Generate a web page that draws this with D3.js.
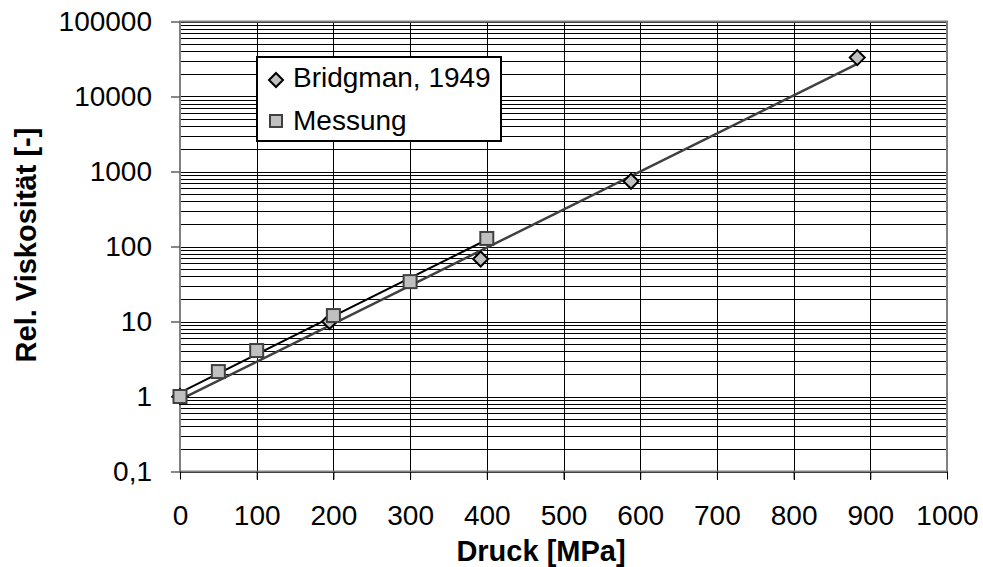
<!DOCTYPE html>
<html>
<head>
<meta charset="utf-8">
<script src="https://cdn.jsdelivr.net/npm/d3@7"></script>
<style>
  html, body { margin: 0; padding: 0; background: #fff; }
  svg { display: block; font-family: Arial, "Liberation Sans", sans-serif; }
</style>
</head>
<body>
<svg id="chart" width="983" height="567"></svg>
<script>
// Relative viscosity vs. pressure (log scale)
const pressureBridgman = [0, 195, 392, 588, 883];
const viscBridgman     = [1, 10, 68, 740, 33000];
const pressureMessung  = [0, 50, 100, 200, 300, 400];
const viscMessung      = [1, 2.15, 4.1, 12, 34, 128];

const xTicks = [0, 100, 200, 300, 400, 500, 600, 700, 800, 900, 1000];
const yTicks = [0.1, 1, 10, 100, 1000, 10000, 100000];
const yTickLabels = ["0,1", "1", "10", "100", "1000", "10000", "100000"];

const seriesNames = ["Bridgman, 1949", "Messung"];
const xTitle = "Druck [MPa]";
const yTitle = "Rel. Viskosität [-]";

const svg = d3.select("#chart");
const plotLeft = 180, plotRight = 947, plotTop = 21.5, plotBottom = 471.5;
const tickFont = 28, titleFont = 29;

const x = d3.scaleLinear().domain([0, 1000]).range([plotLeft, plotRight]);
const y = d3.scaleLog().domain([0.1, 100000]).range([plotBottom, plotTop]);

// gridlines: minor (2..9 per decade) and major horizontals, verticals per 100
const hGrid = [];
for (let e = -1; e < 5; e++) {
  for (let k = 1; k <= 9; k++) hGrid.push(k * Math.pow(10, e));
}
hGrid.push(100000);

const grid = svg.append("g").attr("shape-rendering", "crispEdges");
grid.selectAll("line.h").data(hGrid).join("line")
  .attr("x1", plotLeft).attr("x2", plotRight)
  .attr("y1", d => Math.round(y(d)) + 0.5).attr("y2", d => Math.round(y(d)) + 0.5)
  .attr("stroke", "#000").attr("stroke-width", 1);
grid.selectAll("line.v").data(xTicks.slice(1, -1)).join("line")
  .attr("y1", plotTop).attr("y2", plotBottom + 8)
  .attr("x1", d => Math.round(x(d)) + 0.5).attr("x2", d => Math.round(x(d)) + 0.5)
  .attr("stroke", "#000").attr("stroke-width", 1);

// plot border
svg.append("rect")
  .attr("x", plotLeft).attr("y", plotTop).attr("width", plotRight - plotLeft).attr("height", plotBottom - plotTop)
  .attr("fill", "none").attr("stroke", "#808080").attr("stroke-width", 2);

// axes
const xAxis = d3.axisBottom(x).tickValues(xTicks).tickSize(8).tickPadding(26).tickFormat(d3.format("d"));
const gx = svg.append("g").attr("transform", `translate(0,${plotBottom})`).call(xAxis);
gx.select(".domain").remove();
gx.selectAll(".tick line").attr("stroke", "#000");
gx.selectAll(".tick text").attr("font-size", tickFont).attr("fill", "#000");

const yAxis = d3.axisLeft(y).tickValues(yTicks).tickSize(9).tickPadding(19)
  .tickFormat((d, i) => yTickLabels[i]);
const gy = svg.append("g").attr("transform", `translate(${plotLeft},0)`).call(yAxis);
gy.select(".domain").remove();
gy.selectAll(".tick line").attr("stroke", "#606060").attr("stroke-width", 1.5);
gy.selectAll(".tick text").attr("font-size", tickFont).attr("fill", "#000");

// exponential trend lines from least squares on log10
function expFit(xs, ys) {
  const ly = ys.map(v => Math.log10(v));
  const mx = d3.mean(xs), my = d3.mean(ly);
  const sxy = d3.sum(xs, (v, i) => (v - mx) * (ly[i] - my));
  const sxx = d3.sum(xs, v => (v - mx) * (v - mx));
  const b = sxy / sxx, a = my - b * mx;
  return v => Math.pow(10, a + b * v);
}
const fitB = expFit(pressureBridgman, viscBridgman);
const fitM = expFit(pressureMessung, viscMessung);
const line = d3.line().x(d => x(d[0])).y(d => y(d[1]));

const xbExt = d3.extent(pressureBridgman);
const xmExt = d3.extent(pressureMessung);
svg.append("path")
  .attr("d", line([[xbExt[0], fitB(xbExt[0])], [xbExt[1], fitB(xbExt[1])]]))
  .attr("stroke", "#404040").attr("stroke-width", 2.5).attr("fill", "none");
svg.append("path")
  .attr("d", line([[xmExt[0], fitM(xmExt[0])], [xmExt[1], fitM(xmExt[1])]]))
  .attr("stroke", "#000").attr("stroke-width", 2).attr("fill", "none");

// markers
const diamond = s => `M0,${-s}L${s},0L0,${s}L${-s},0Z`;
svg.append("g").selectAll("path").data(pressureBridgman).join("path")
  .attr("transform", (d, i) => `translate(${x(d)},${y(viscBridgman[i])})`)
  .attr("d", diamond(7.5))
  .attr("fill", "#c0c0c0").attr("stroke", "#000").attr("stroke-width", 2);
svg.append("g").selectAll("rect").data(pressureMessung).join("rect")
  .attr("x", d => x(d) - 6.5)
  .attr("y", (d, i) => y(viscMessung[i]) - 6.5)
  .attr("width", 13).attr("height", 13)
  .attr("fill", "#c0c0c0").attr("stroke", "#404040").attr("stroke-width", 2);

// legend
const lg = svg.append("g");
lg.append("rect").attr("x", 257).attr("y", 57).attr("width", 244).attr("height", 84)
  .attr("fill", "#fff").attr("stroke", "#000").attr("stroke-width", 1.2)
  .attr("shape-rendering", "crispEdges");
lg.append("path").attr("transform", "translate(276,80)").attr("d", diamond(7))
  .attr("fill", "#c0c0c0").attr("stroke", "#000").attr("stroke-width", 2);
lg.append("rect").attr("x", 270).attr("y", 115).attr("width", 12).attr("height", 12)
  .attr("fill", "#c0c0c0").attr("stroke", "#404040").attr("stroke-width", 2);
lg.append("text").attr("x", 293).attr("y", 87).attr("font-size", tickFont).text(seriesNames[0]);
lg.append("text").attr("x", 293).attr("y", 130).attr("font-size", tickFont).text(seriesNames[1]);

// axis titles
svg.append("text").attr("x", 541).attr("y", 561).attr("text-anchor", "middle")
  .attr("font-size", titleFont).attr("font-weight", "bold").text(xTitle);
svg.append("text").attr("transform", "translate(36,245) rotate(-90)")
  .attr("text-anchor", "middle").attr("font-size", titleFont).attr("font-weight", "bold").text(yTitle);
</script>
</body>
</html>
